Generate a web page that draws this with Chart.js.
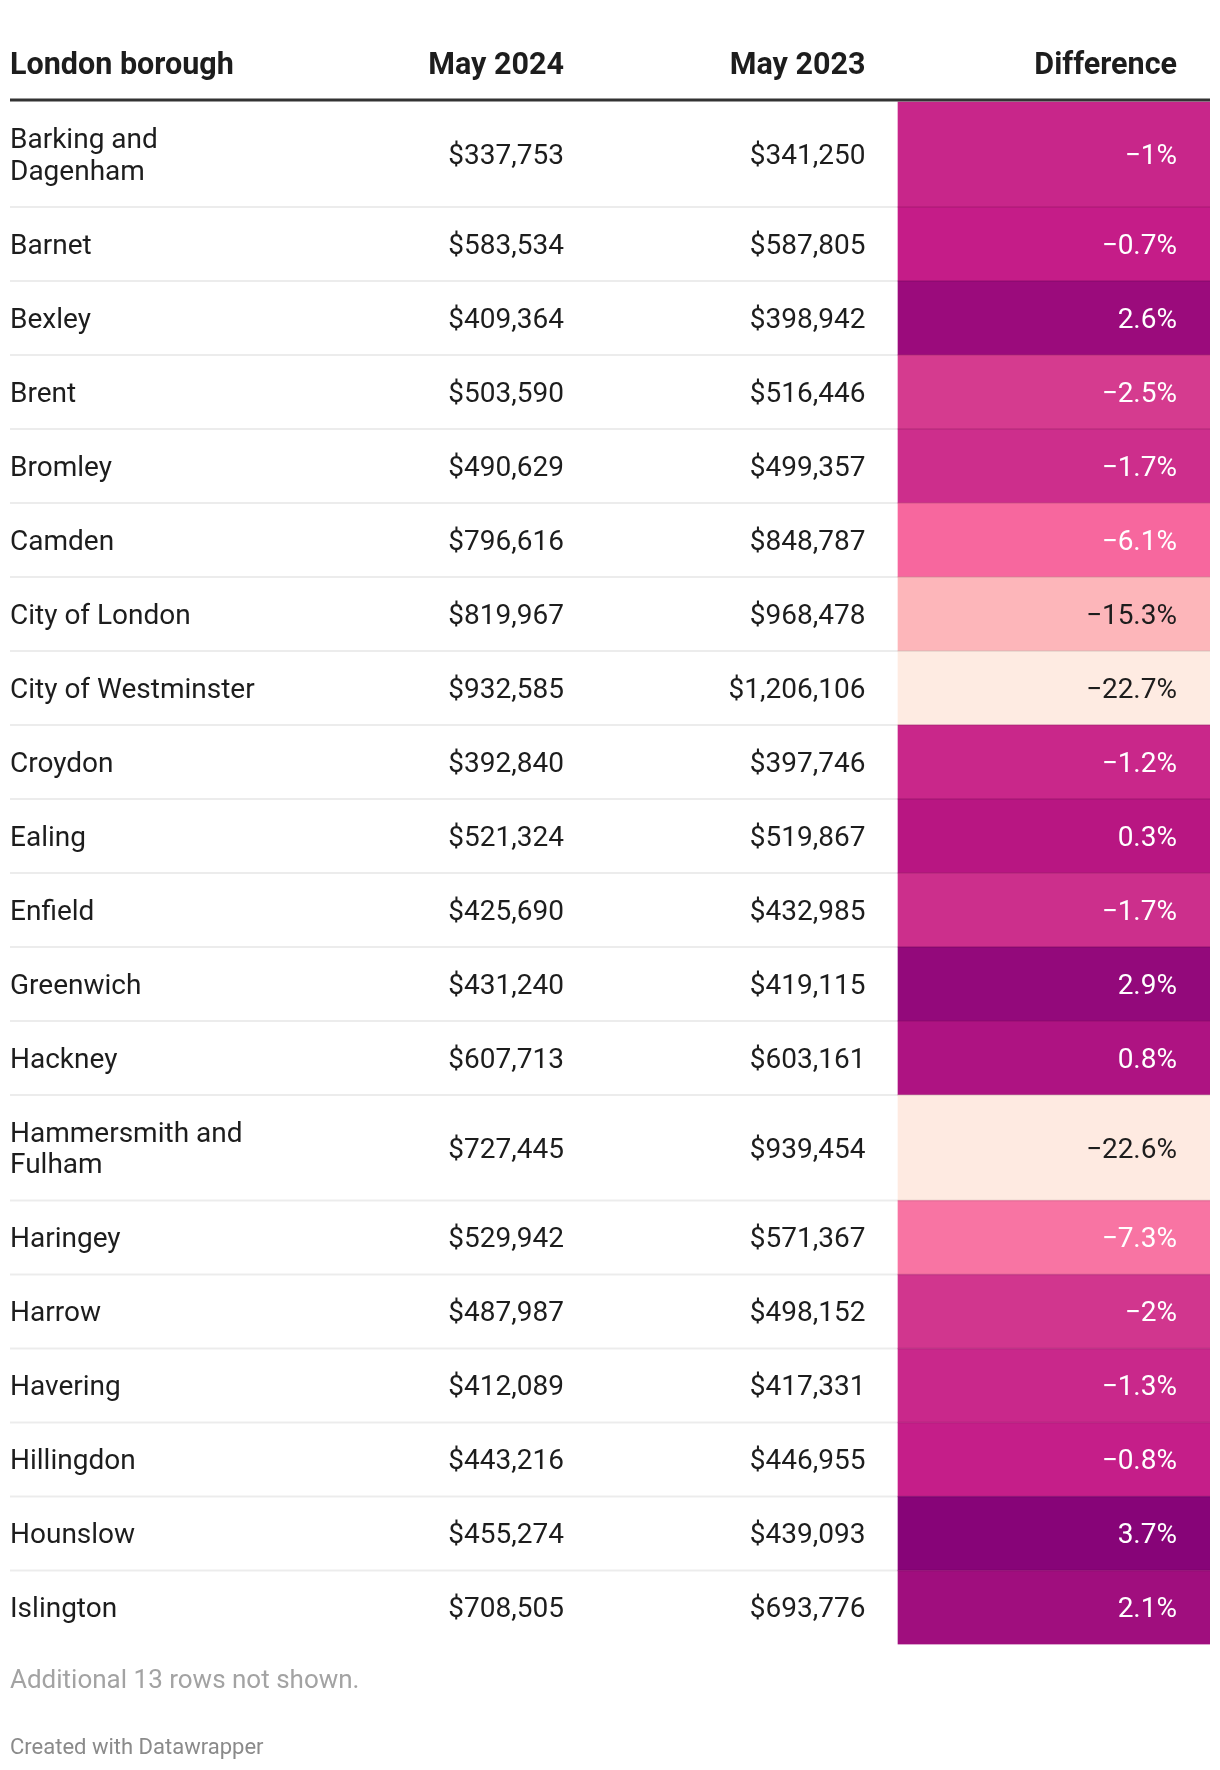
<!DOCTYPE html>
<html><head><meta charset="utf-8">
<script src="https://cdn.jsdelivr.net/npm/chart.js@4"></script>
<style>html,body{margin:0;padding:0;background:#fff}canvas{display:block}</style>
</head><body>
<canvas id="c" width="1220" height="1770"></canvas>
<script>
// ---- data ----
const columns = ["London borough", "May 2024", "May 2023", "Difference"];
const boroughs = ["Barking and Dagenham", "Barnet", "Bexley", "Brent", "Bromley", "Camden", "City of London",
  "City of Westminster", "Croydon", "Ealing", "Enfield", "Greenwich", "Hackney", "Hammersmith and Fulham",
  "Haringey", "Harrow", "Havering", "Hillingdon", "Hounslow", "Islington"];
const may2024 = [337753, 583534, 409364, 503590, 490629, 796616, 819967, 932585, 392840, 521324, 425690,
  431240, 607713, 727445, 529942, 487987, 412089, 443216, 455274, 708505];
const may2023 = [341250, 587805, 398942, 516446, 499357, 848787, 968478, 1206106, 397746, 519867, 432985,
  419115, 603161, 939454, 571367, 498152, 417331, 446955, 439093, 693776];
const differencePct = [-1, -0.7, 2.6, -2.5, -1.7, -6.1, -15.3, -22.7, -1.2, 0.3, -1.7, 2.9, 0.8, -22.6,
  -7.3, -2, -1.3, -0.8, 3.7, 2.1];
const hiddenRowCount = 13;
const footerNote = "Additional " + hiddenRowCount + " rows not shown.";
const credit = "Created with Datawrapper";

// ---- styles ----
const cellColors = ["#c8268a", "#c51c88", "#9b0b7c", "#d53b8f", "#cd2e8c", "#f7679e", "#fdb6ba", "#feebe2",
  "#c9278a", "#b81682", "#cc2f8c", "#93097b", "#ae1382", "#feeae1", "#f874a3", "#d1368e", "#c9288b",
  "#c51e89", "#870478", "#a00e7e"];
const FONT = 'Roboto, "Noto Sans", sans-serif';
const BODY_PX = 28, HEAD_PX = 30.5, LINE_H = 31.5, ROW_PAD = 42.5, NAME_MAX_W = 262;
const TEXT_COLOR = "#1d1d1d";
// table geometry (x in table units = px across the 1200px-wide table)
const TABLE_W = 1200;
const colTextRight = [null, 554, 855.5, 1167];
const diffCol = [888, 1200];

// ---- layout from text ----
const mctx = document.createElement("canvas").getContext("2d");
mctx.font = `400 ${BODY_PX}px ${FONT}`;
function wrap(t) {
  const words = t.split(" "); const lines = []; let cur = "";
  for (const w of words) {
    const test = cur ? cur + " " + w : w;
    if (cur && mctx.measureText(test).width > NAME_MAX_W) { lines.push(cur); cur = w; } else cur = test;
  }
  lines.push(cur); return lines;
}
const nameLines = boroughs.map(wrap);
const rowTop = [], rowBottom = [];
let acc = 0;
nameLines.forEach(l => { rowTop.push(acc); acc += ROW_PAD + LINE_H * l.length; rowBottom.push(acc); });
const tableH = acc;

const fmtMoney = v => "$" + v.toLocaleString("en-US");
const fmtPct = v => (v < 0 ? "\u2212" : "") + Math.abs(v) + "%";
function isLight(hex) {
  const n = parseInt(hex.slice(1), 16); const r = n >> 16, g = (n >> 8) & 255, b = n & 255;
  return (0.299 * r + 0.587 * g + 0.114 * b) > 175;
}

const tablePlugin = {
  id: "tableText",
  afterDatasetsDraw(chart) {
    const { ctx, scales: { x, y } } = chart;
    const x0 = x.getPixelForValue(0), x1 = x.getPixelForValue(TABLE_W);
    ctx.save();
    // row rules
    ctx.fillStyle = "rgba(0,0,0,0.075)";
    for (let i = 0; i < rowBottom.length - 1; i++) {
      const py = y.getPixelForValue(rowBottom[i]);
      ctx.fillRect(x0, py - 1, x1 - x0, 2);
    }
    // header rule
    ctx.fillStyle = "#333";
    ctx.fillRect(x0, y.getPixelForValue(0) - 3, x1 - x0, 3);
    // header text
    const headBase = y.getPixelForValue(0) - 27.5;
    ctx.font = `700 ${HEAD_PX}px ${FONT}`;
    ctx.fillStyle = TEXT_COLOR;
    ctx.textBaseline = "alphabetic";
    ctx.textAlign = "left";
    ctx.fillText(columns[0], x0, headBase);
    ctx.textAlign = "right";
    for (let c = 1; c < 4; c++) ctx.fillText(columns[c], x.getPixelForValue(colTextRight[c]), headBase);
    // body
    ctx.font = `400 ${BODY_PX}px ${FONT}`;
    const capHalf = BODY_PX * 0.711 / 2;
    for (let i = 0; i < boroughs.length; i++) {
      const mid = (y.getPixelForValue(rowTop[i]) + y.getPixelForValue(rowBottom[i])) / 2;
      const base = mid + capHalf;
      const lines = nameLines[i];
      ctx.fillStyle = TEXT_COLOR;
      ctx.textAlign = "left";
      lines.forEach((ln, k) => {
        ctx.fillText(ln, x0, base + (k - (lines.length - 1) / 2) * LINE_H);
      });
      ctx.textAlign = "right";
      ctx.fillText(fmtMoney(may2024[i]), x.getPixelForValue(colTextRight[1]), base);
      ctx.fillText(fmtMoney(may2023[i]), x.getPixelForValue(colTextRight[2]), base);
      ctx.fillStyle = isLight(cellColors[i]) ? TEXT_COLOR : "#ffffff";
      ctx.fillText(fmtPct(differencePct[i]), x.getPixelForValue(colTextRight[3]), base);
    }
    // footer
    const bottom = y.getPixelForValue(tableH);
    ctx.textAlign = "left";
    ctx.font = `400 26px ${FONT}`;
    ctx.fillStyle = "#a3a3a3";
    ctx.fillText(footerNote, x0, bottom + 43);
    ctx.font = `400 22px ${FONT}`;
    ctx.fillStyle = "#8a8a8a";
    ctx.fillText(credit, x0, bottom + 109);
    ctx.restore();
  }
};

new Chart(document.getElementById("c"), {
  type: "bar",
  data: {
    datasets: [{
      label: columns[3],
      data: differencePct.map((v, i) => ({ x: (diffCol[0] + diffCol[1]) / 2, y: [rowTop[i], rowBottom[i]], pct: v })),
      backgroundColor: cellColors,
      borderWidth: 0,
      barThickness: diffCol[1] - diffCol[0],
      grouped: false
    }]
  },
  options: {
    responsive: false,
    animation: false,
    events: [],
    layout: { padding: { left: 10, right: 10, top: 101.5, bottom: 1770 - 101.5 - tableH } },
    plugins: { legend: { display: false }, tooltip: { enabled: false } },
    scales: {
      x: { type: "linear", min: 0, max: TABLE_W, offset: false, display: false },
      y: { type: "linear", reverse: true, min: 0, max: tableH, display: false }
    }
  },
  plugins: [tablePlugin]
});
</script>
</body></html>
